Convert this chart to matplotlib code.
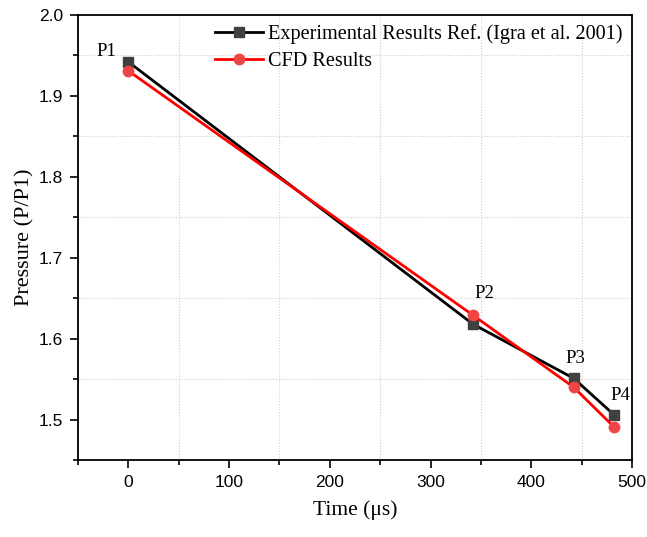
import matplotlib
matplotlib.use("Agg")
import matplotlib.pyplot as plt
from matplotlib.ticker import MultipleLocator

time_exp = [0, 342, 442, 482]
p_exp = [1.942, 1.618, 1.551, 1.506]
time_cfd = [0, 342, 442, 482]
p_cfd = [1.931, 1.629, 1.540, 1.491]
point_labels = ["P1", "P2", "P3", "P4"]

serif = ["Liberation Serif", "DejaVu Serif"]
sans = ["Liberation Sans", "DejaVu Sans"]

fig = plt.figure(figsize=(6.47, 5.37), dpi=100)
ax = fig.add_axes([0.1206, 0.1434, 0.8563, 0.8286])

ax.plot(time_exp, p_exp, color="black", lw=2, marker="s", ms=6.5,
        mfc="#404040", mec="#404040", label="Experimental Results Ref. (Igra et al. 2001)", zorder=3)
ax.plot(time_cfd, p_cfd, color="#ff0000", lw=2, marker="o", ms=7.5,
        mfc="#f04545", mec="#f04545", label="CFD Results", zorder=4)

# point labels (offsets in pixels from experimental points)
offsets = [(-12, 6, "right"), (2, 26, "left"), (-8, 15, "left"), (-3, 15, "left")]
for i, lab in enumerate(point_labels):
    dx, dy, ha = offsets[i]
    ax.annotate(lab, (time_exp[i], p_exp[i]), xytext=(dx, dy),
                textcoords="offset pixels", fontsize=13.5, family=serif,
                ha=ha, va="baseline")

ax.set_xlim(-50, 500)
ax.set_ylim(1.45, 2.0)
ax.xaxis.set_major_locator(MultipleLocator(100))
ax.xaxis.set_minor_locator(MultipleLocator(50))
ax.yaxis.set_major_locator(MultipleLocator(0.1))
ax.yaxis.set_minor_locator(MultipleLocator(0.05))
ax.tick_params(which="major", direction="out", length=6, width=1.2, labelsize=12.5, pad=5)
ax.tick_params(which="minor", direction="out", length=3.5, width=1.2)
for lab in ax.get_xticklabels() + ax.get_yticklabels():
    lab.set_family(sans)
ax.grid(which="minor", color="#d0d0d0", linestyle=(0, (1, 1.5)), lw=0.8)
ax.grid(which="major", visible=False)
for s in ax.spines.values():
    s.set_linewidth(1.3)

ax.set_xlabel("Time (\u03bcs)", fontsize=15.5, family=serif, labelpad=7)
ax.set_ylabel("Pressure (P/P1)", fontsize=16, family=serif, labelpad=3)

leg = ax.legend(loc="upper right", frameon=False, prop={"family": serif, "size": 14.6},
                handlelength=2.4, handletextpad=0.25, borderaxespad=0.15, labelspacing=0.4,
                borderpad=0.3)

fig.savefig("out.png", dpi=100)
